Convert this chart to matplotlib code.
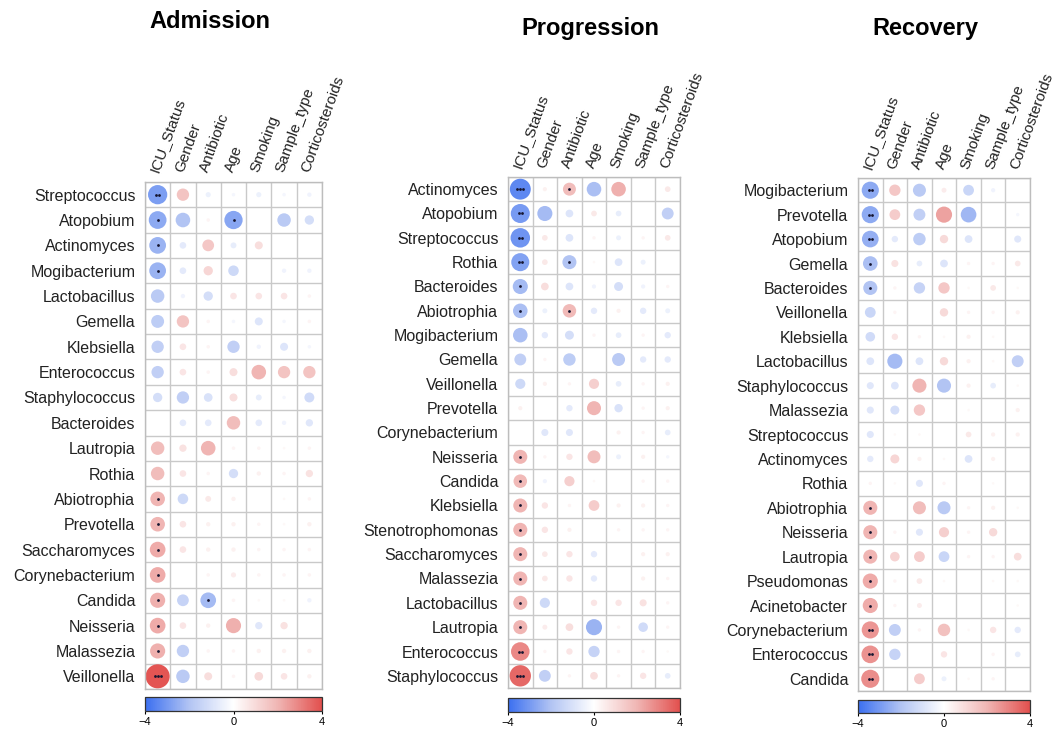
import numpy as np
import matplotlib
matplotlib.use("Agg")
import matplotlib.pyplot as plt
from matplotlib.colors import LinearSegmentedColormap, Normalize
from matplotlib.cm import ScalarMappable

plt.rcParams['font.family'] = ['Liberation Sans', 'DejaVu Sans']

factors = ['ICU_Status', 'Gender', 'Antibiotic', 'Age', 'Smoking', 'Sample_type', 'Corticosteroids']

# ---- Admission ----
adm_species = ['Streptococcus', 'Atopobium', 'Actinomyces', 'Mogibacterium', 'Lactobacillus',
               'Gemella', 'Klebsiella', 'Enterococcus', 'Staphylococcus', 'Bacteroides',
               'Lautropia', 'Rothia', 'Abiotrophia', 'Prevotella', 'Saccharomyces',
               'Corynebacterium', 'Candida', 'Neisseria', 'Malassezia', 'Veillonella']
adm_values = [
    [-2.9, 1.6, -0.5, -0.3, -0.5, -0.3, -0.4],
    [-2.6, -2.0, 0.3, -2.7, 0.0, -1.8, -1.1],
    [-2.4, -0.7, 1.5, -0.6, 0.9, 0.0, 0.0],
    [-2.4, -0.7, 1.1, -1.3, 0.0, -0.4, -0.4],
    [-1.8, -0.4, -1.1, 0.7, 0.7, 0.7, 0.3],
    [-1.7, 1.6, 0.3, -0.3, -0.9, -0.3, 0.3],
    [-1.6, 0.7, 0.3, -1.6, -0.4, -0.9, -0.3],
    [-1.6, 0.7, 0.3, 0.9, 2.0, 1.6, 1.6],
    [-1.1, -1.6, -1.0, 0.9, -0.6, -0.3, -1.2],
    [0.0, -0.7, -0.7, 1.8, -0.7, -0.4, -0.8],
    [1.8, 0.8, 2.0, 0.3, 0.3, 0.2, 0.3],
    [1.8, 0.7, 0.3, -1.1, 0.4, 0.3, 0.8],
    [2.0, -1.3, 0.6, 0.4, 0.0, 0.2, 0.3],
    [2.0, 0.7, 0.4, 0.4, 0.3, 0.2, 0.4],
    [2.2, 0.7, 0.4, 0.4, 0.3, 0.3, 0.3],
    [2.2, 0.0, 0.3, 0.5, 0.3, 0.3, 0.3],
    [2.1, -1.5, -2.2, 0.3, 0.2, 0.2, -0.4],
    [2.2, 0.7, 0.4, 2.1, -0.8, 0.8, 0.0],
    [2.1, -1.6, 0.3, 0.3, 0.4, 0.4, 0.4],
    [3.9, -1.8, 0.9, 0.3, 1.0, 0.7, 0.4],
]
adm_icu_stars = [2, 1, 1, 1, 0, 0, 0, 0, 0, 0, 0, 0, 1, 1, 1, 1, 1, 1, 1, 3]
adm_extra_stars = [('Atopobium', 'Age', 1), ('Candida', 'Antibiotic', 1)]

# ---- Progression ----
pro_species = ['Actinomyces', 'Atopobium', 'Streptococcus', 'Rothia', 'Bacteroides',
               'Abiotrophia', 'Mogibacterium', 'Gemella', 'Veillonella', 'Prevotella',
               'Corynebacterium', 'Neisseria', 'Candida', 'Klebsiella', 'Stenotrophomonas',
               'Saccharomyces', 'Malassezia', 'Lactobacillus', 'Lautropia', 'Enterococcus',
               'Staphylococcus']
pro_values = [
    [-3.4, 0.4, 1.8, -2.1, 2.1, 0.0, 0.6],
    [-3.0, -2.2, -0.9, 0.6, -0.6, 0.0, -1.6],
    [-3.1, 0.6, -0.9, 0.3, -0.5, 0.3, 0.6],
    [-2.8, 0.6, -2.0, 0.2, -0.9, -0.5, 0.0],
    [-2.2, 0.9, -0.9, -0.4, -1.1, -0.4, 0.3],
    [-2.1, -0.5, 1.9, -0.7, 0.4, -0.7, -0.5],
    [-2.1, -0.7, -1.1, 0.3, -0.6, 0.3, -0.7],
    [-1.6, 0.3, -1.7, 0.0, -1.8, -0.7, -0.7],
    [-1.3, 0.4, 0.3, 1.3, -0.6, 0.3, 0.4],
    [0.4, 0.0, -0.7, 2.0, -1.0, 0.3, 0.4],
    [0.0, -0.8, -0.8, 0.0, 0.4, 0.3, -0.6],
    [2.0, 0.3, 0.7, 1.8, -0.5, 0.4, -0.3],
    [1.9, -0.4, 1.3, 0.2, 0.0, 0.3, 0.3],
    [2.0, 0.7, 0.3, 1.4, 0.4, 0.4, 0.3],
    [2.0, 0.7, 0.4, 0.0, 0.3, 0.3, 0.3],
    [2.0, 0.6, 0.7, -0.7, 0.0, 0.4, 0.4],
    [2.0, 0.6, 0.7, -0.7, 0.0, 0.4, 0.3],
    [2.0, -1.3, 0.0, 0.7, 0.7, 0.8, 0.3],
    [2.0, 0.5, 0.9, -2.4, 0.3, -1.2, 0.3],
    [2.9, 0.3, 0.7, -1.5, 0.3, 0.3, 0.2],
    [3.5, -1.6, 0.3, 0.9, 0.3, 0.7, -0.6],
]
pro_icu_stars = [3, 2, 2, 2, 1, 1, 0, 0, 0, 0, 0, 1, 1, 1, 1, 1, 1, 1, 1, 2, 3]
pro_extra_stars = [('Actinomyces', 'Antibiotic', 1), ('Rothia', 'Antibiotic', 1),
                   ('Abiotrophia', 'Antibiotic', 1)]

# ---- Recovery ----
rec_species = ['Mogibacterium', 'Prevotella', 'Atopobium', 'Gemella', 'Bacteroides',
               'Veillonella', 'Klebsiella', 'Lactobacillus', 'Staphylococcus', 'Malassezia',
               'Streptococcus', 'Actinomyces', 'Rothia', 'Abiotrophia', 'Neisseria',
               'Lautropia', 'Pseudomonas', 'Acinetobacter', 'Corynebacterium', 'Enterococcus',
               'Candida']
rec_values = [
    [-2.6, 1.5, -1.8, 0.5, -1.4, -0.4, 0.0],
    [-2.6, 1.4, -1.6, 2.4, -2.3, 0.0, -0.3],
    [-2.5, -0.7, -1.7, 1.0, -0.9, 0.0, -0.8],
    [-2.1, 0.8, -0.6, -0.9, 0.3, 0.3, 0.6],
    [-2.0, 0.3, -1.5, 1.5, 0.2, 0.6, 0.2],
    [-1.4, 0.3, 0.0, 1.0, 0.3, 0.3, 0.4],
    [-1.2, 0.7, 0.3, 0.2, 0.4, 0.2, 0.0],
    [-0.9, -2.2, -0.9, 1.0, 0.4, 0.2, -1.6],
    [-0.8, -0.9, 2.0, -2.0, 0.4, -0.6, 0.2],
    [-0.8, -1.1, 1.5, 0.0, 0.2, 0.0, 0.4],
    [-0.8, 0.2, 0.2, 0.0, 0.6, 0.4, 0.4],
    [-0.7, 1.1, 0.4, 0.2, -0.9, 0.4, 0.0],
    [0.3, 0.2, -0.8, 0.3, 0.0, 0.2, 0.0],
    [2.0, 0.0, 1.8, -1.8, 0.3, 0.4, 0.2],
    [2.0, 0.3, -0.8, 1.3, 0.3, 1.0, 0.0],
    [2.0, 1.2, 1.4, -1.4, 0.3, 0.3, 0.9],
    [2.2, 0.3, 0.6, 0.2, 0.0, 0.2, 0.2],
    [2.2, 0.3, 0.5, 0.0, 0.0, 0.0, 0.2],
    [2.6, -1.6, 0.3, 1.7, 0.2, 0.7, -0.7],
    [2.7, -1.5, 0.0, 0.7, 0.0, 0.3, -0.6],
    [2.8, 0.0, 1.4, -0.5, 0.2, 0.3, 0.0],
]
rec_icu_stars = [2, 2, 2, 1, 1, 0, 0, 0, 0, 0, 0, 0, 0, 1, 1, 1, 1, 1, 2, 2, 2]
rec_extra_stars = []

cmap = LinearSegmentedColormap.from_list(
    'bwr2', [(0, '#3b6ff0'), (0.25, '#b2c4f3'), (0.5, '#ffffff'), (0.75, '#f0b6b4'), (1, '#e2504e')])
norm = Normalize(-4, 4)

fig = plt.figure(figsize=(10.58, 7.31), dpi=100)
W, H = 1058, 731


def px_axes(x0, y0, x1, y1):
    return fig.add_axes([x0 / W, 1 - y1 / H, (x1 - x0) / W, (y1 - y0) / H])


panels = [
    ('Admission', adm_species, adm_values, adm_icu_stars, adm_extra_stars,
     (145, 182, 322, 689), (145, 697, 322, 711), (210, 22)),
    ('Progression', pro_species, pro_values, pro_icu_stars, pro_extra_stars,
     (508, 177, 680, 688), (508, 698, 680, 712), (590, 28)),
    ('Recovery', rec_species, rec_values, rec_icu_stars, rec_extra_stars,
     (858, 178, 1030, 691), (858, 700, 1030, 713), (925, 28)),
]

for title, species, values, icu_stars, extra, box, cbox, tpos in panels:
    vals = np.array(values)
    nrow, ncol = vals.shape
    ax = px_axes(*box)
    ax.set_xlim(-0.5, ncol - 0.5)
    ax.set_ylim(nrow - 0.5, -0.5)
    cell_px = (box[2] - box[0]) / ncol
    cell_py = (box[3] - box[1]) / nrow
    cell = min(cell_px, cell_py)

    for k in range(ncol + 1):
        ax.axvline(k - 0.5, color='#c9c9c9', lw=1.0, zorder=1)
    for k in range(nrow + 1):
        ax.axhline(k - 0.5, color='#c9c9c9', lw=1.0, zorder=1)

    # circle diameter grows with |value| (slightly sub-linear, like the original)
    yy, xx = np.mgrid[0:nrow, 0:ncol]
    diam_pt = (np.abs(vals) / 4) ** 0.75 * cell * 0.97 * 0.72
    ax.scatter(xx.ravel(), yy.ravel(), s=diam_pt.ravel() ** 2, c=vals.ravel(),
               cmap=cmap, norm=norm, linewidths=0, zorder=2)

    stars = np.zeros((nrow, ncol), dtype=int)
    stars[:, 0] = icu_stars
    for sp, fac, n in extra:
        stars[species.index(sp), factors.index(fac)] = n
    for r in range(nrow):
        for c in range(ncol):
            n = stars[r, c]
            if n:
                offs = (np.arange(n) - (n - 1) / 2) * 0.12
                ax.scatter(c + offs, [r] * n, s=4, color='#151530', linewidths=0, zorder=3)

    ax.set_xticks([])
    ax.set_yticks(range(nrow))
    ax.set_yticklabels(species, fontsize=11.5, color='#222222')
    ax.tick_params(axis='y', length=0, pad=7)
    for s in ax.spines.values():
        s.set_color('#bdbdbd')
        s.set_linewidth(1.0)

    for c, f in enumerate(factors):
        ax.text(c - 0.15, -0.9, f, rotation=70, rotation_mode='anchor',
                ha='left', va='center', fontsize=11, color='#222222')

    fig.text(tpos[0] / W, 1 - tpos[1] / H, title, fontsize=17, fontweight='bold',
             ha='center', va='center')

    cax = px_axes(*cbox)
    cb = fig.colorbar(ScalarMappable(norm=norm, cmap=cmap), cax=cax, orientation='horizontal',
                      ticks=[-4, 0, 4])
    cb.outline.set_linewidth(0.9)
    cb.outline.set_edgecolor('#333333')
    cax.tick_params(labelsize=8, length=2, width=0.8, pad=2)

fig.savefig('out.png', dpi=100)
